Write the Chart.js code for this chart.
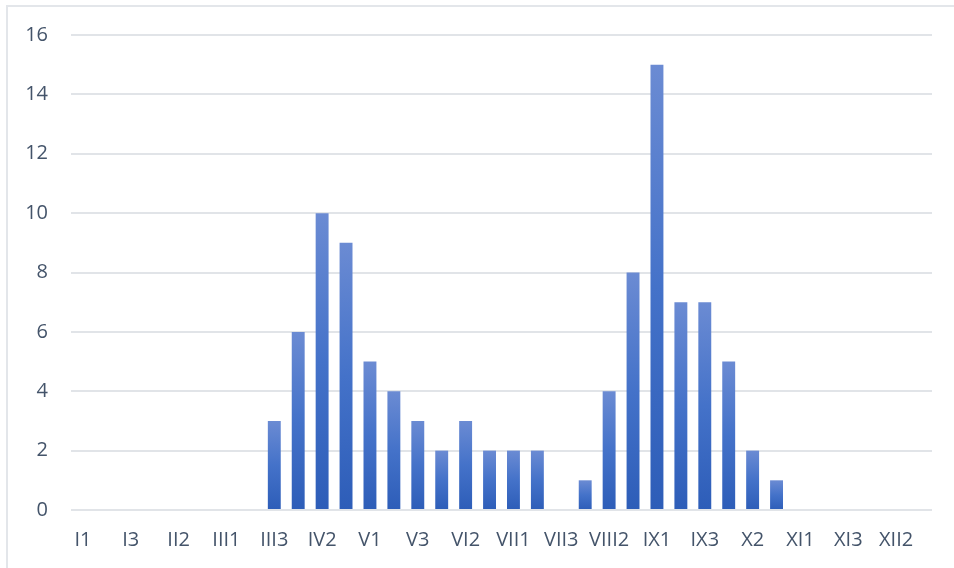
<!DOCTYPE html>
<html>
<head>
<meta charset="utf-8">
<script src="https://cdn.jsdelivr.net/npm/chart.js@4/dist/chart.umd.min.js"></script>
<style>
  html, body { margin: 0; padding: 0; background: #ffffff; }
  #wrap { position: relative; width: 954px; height: 568px; overflow: hidden; }
  #frame { position: absolute; left: 6px; top: 5px; width: 960px; height: 600px;
           border-left: 2px solid #e3e6ea; border-top: 2px solid #e3e6ea; box-sizing: border-box; }
  canvas { position: absolute; left: 0; top: 0; }
</style>
</head>
<body>
<div id="wrap">
  <div id="frame"></div>
  <canvas id="c" width="954" height="568"></canvas>
</div>
<script>
const categories = [
  'I1','I2','I3','II1','II2','II3','III1','III2','III3',
  'IV1','IV2','IV3','V1','V2','V3','VI1','VI2','VI3',
  'VII1','VII2','VII3','VIII1','VIII2','VIII3','IX1','IX2','IX3',
  'X1','X2','X3','XI1','XI2','XI3','XII1','XII2','XII3'
];
const values = [
  0,0,0, 0,0,0, 0,0,3,
  6,10,9, 5,4,3, 2,3,2,
  2,2,0, 1,4,8, 15,7,7,
  5,2,1, 0,0,0, 0,0,0
];
const yTicks = [0,2,4,6,8,10,12,14,16];

const textColor = '#44546a';
const gridColor = '#e1e4e8';

function barGradient(ctx) {
  const chart = ctx.chart;
  if (!chart.chartArea || ctx.raw === undefined) return '#4472c4';
  const ys = chart.scales.y;
  const top = ys.getPixelForValue(ctx.raw);
  const base = ys.getPixelForValue(0);
  if (!isFinite(top) || !isFinite(base) || base - top < 1) return '#4472c4';
  const g = chart.ctx.createLinearGradient(0, top, 0, base);
  g.addColorStop(0, '#6b8bd3');
  g.addColorStop(0.5, '#4472c9');
  g.addColorStop(1, '#2d5db8');
  return g;
}

new Chart(document.getElementById('c'), {
  type: 'bar',
  data: {
    labels: categories,
    datasets: [{
      data: values,
      backgroundColor: barGradient,
      borderWidth: 0,
      barPercentage: 0.54,
      categoryPercentage: 1.0
    }]
  },
  options: {
    responsive: false,
    animation: false,
    maintainAspectRatio: false,
    layout: { padding: { top: 35, right: 22, bottom: 0, left: 0 } },
    plugins: { legend: { display: false }, tooltip: { enabled: false } },
    scales: {
      x: {
        grid: { display: false, drawTicks: false },
        border: { display: false },
        ticks: {
          autoSkip: false,
          maxRotation: 0,
          minRotation: 0,
          padding: 18,
          color: textColor,
          font: { family: 'Open Sans', size: 20 },
          callback: function (v, i) { return i % 2 === 0 ? categories[i] : ''; }
        },
        afterFit: function (s) { s.height = 58; }
      },
      y: {
        min: 0,
        max: 16,
        afterBuildTicks: function (s) { s.ticks = yTicks.map(v => ({ value: v })); },
        grid: { color: gridColor, lineWidth: 2, drawTicks: false },
        border: { display: false },
        ticks: {
          padding: 23,
          color: textColor,
          font: { family: 'Open Sans', size: 20 }
        },
        afterFit: function (s) { s.width = 71; }
      }
    }
  }
});
</script>
</body>
</html>
